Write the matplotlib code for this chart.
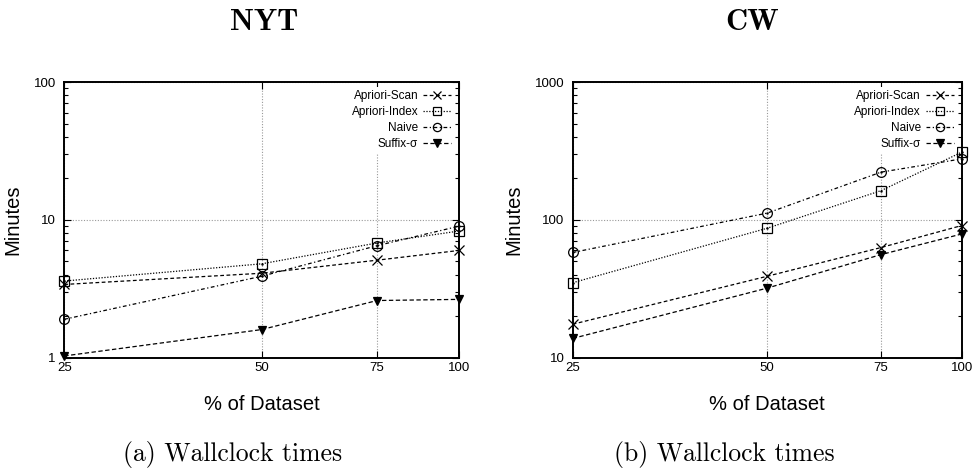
import matplotlib
matplotlib.use("Agg")
import matplotlib.pyplot as plt
from matplotlib.ticker import FixedLocator, NullLocator, LogLocator, NullFormatter

# % of dataset
sizes = [25, 50, 75, 100]

# NYT wallclock minutes
nyt_scan = [3.4, 4.1, 5.1, 6.0]
nyt_index = [3.6, 4.8, 6.8, 8.3]
nyt_naive = [1.9, 3.9, 6.5, 9.0]
nyt_suffix = [1.03, 1.6, 2.6, 2.65]

# CW wallclock minutes
cw_scan = [17.5, 39, 63, 91]
cw_index = [35, 87, 163, 310]
cw_naive = [58, 112, 222, 277]
cw_suffix = [13.8, 32, 56, 79]

labels = ["Apriori-Scan", "Apriori-Index", "Naive", "Suffix-σ"]

SANS = "Liberation Sans"

styles = [
    dict(marker="x", ls=(0, (3, 2)), ms=7, mfc="none"),
    dict(marker="s", ls=(0, (1, 1.3)), ms=7, mfc="none"),
    dict(marker="o", ls=(0, (3, 2, 1, 2)), ms=7, mfc="none"),
    dict(marker="v", ls=(0, (3.5, 2)), ms=6, mfc="black"),
]


def draw_panel(ax, series, ylim, yticks):
    for vals, lab, st in zip(series, labels, styles):
        ax.plot(sizes, vals, color="black", lw=0.9, mew=0.9, mec="black",
                label=lab, clip_on=False, zorder=3, **st)
    # little centre dots of the square / circle markers
    for vals in (series[1], series[2]):
        ax.plot(sizes, vals, ls="none", marker=".", ms=1.5, color="black",
                clip_on=False, zorder=4)

    ax.set_xscale("log")
    ax.set_yscale("log")
    ax.set_xlim(25, 100)
    ax.set_ylim(*ylim)

    ax.xaxis.set_major_locator(FixedLocator(sizes))
    ax.xaxis.set_minor_locator(NullLocator())
    ax.set_xticklabels([str(s) for s in sizes], fontfamily=SANS, fontsize=9.5)
    ax.yaxis.set_major_locator(FixedLocator(yticks))
    ax.yaxis.set_minor_locator(LogLocator(base=10, subs=range(2, 10)))
    ax.yaxis.set_minor_formatter(NullFormatter())
    ax.set_yticklabels([str(t) for t in yticks], fontfamily=SANS, fontsize=9.5)

    ax.tick_params(which="both", direction="in", top=True, right=True,
                   width=0.8, colors="black")
    ax.tick_params(which="major", length=5)
    ax.tick_params(axis="x", which="major", pad=3)
    ax.tick_params(axis="y", which="major", pad=6)
    ax.tick_params(which="minor", length=3)

    ax.grid(True, which="major", color="#999999", ls=(0, (1, 1.5)), lw=0.8)
    for sp in ax.spines.values():
        sp.set_linewidth(1.4)

    ax.set_xlabel("% of Dataset", fontfamily=SANS, fontsize=14.5, labelpad=15)
    ax.set_ylabel("Minutes", fontfamily=SANS, fontsize=14.5, labelpad=8)

    leg = ax.legend(loc="upper right", markerfirst=False, frameon=True,
                    prop={"family": SANS, "size": 8.5}, handlelength=2.4,
                    handletextpad=0.4, labelspacing=0.35, borderpad=0.25,
                    borderaxespad=0.4, markerscale=0.85)
    leg.get_frame().set_edgecolor("none")
    leg.get_frame().set_facecolor("white")
    leg.get_frame().set_alpha(1)
    leg.set_zorder(5)


fig = plt.figure(figsize=(9.78, 4.75), dpi=100)
ax1 = fig.add_axes([0.0657, 0.2469, 0.4036, 0.5804])
ax2 = fig.add_axes([0.5856, 0.2469, 0.3978, 0.5804])

draw_panel(ax1, [nyt_scan, nyt_index, nyt_naive, nyt_suffix], (1, 100), [1, 10, 100])
draw_panel(ax2, [cw_scan, cw_index, cw_naive, cw_suffix], (10, 1000), [10, 100, 1000])

fig.text(264 / 978, 1 - 22 / 475, "NYT", fontfamily="cmb10", fontsize=22,
         ha="center", va="center")
fig.text(752 / 978, 1 - 22 / 475, "CW", fontfamily="cmb10", fontsize=22,
         ha="center", va="center")
fig.text(233 / 978, 1 - 455 / 475, "(a) Wallclock times", fontfamily="cmr10",
         fontsize=18.5, ha="center", va="center")
fig.text(724 / 978, 1 - 455 / 475, "(b) Wallclock times", fontfamily="cmr10",
         fontsize=18.5, ha="center", va="center")

fig.savefig("out.png", dpi=100)
plt.close(fig)
